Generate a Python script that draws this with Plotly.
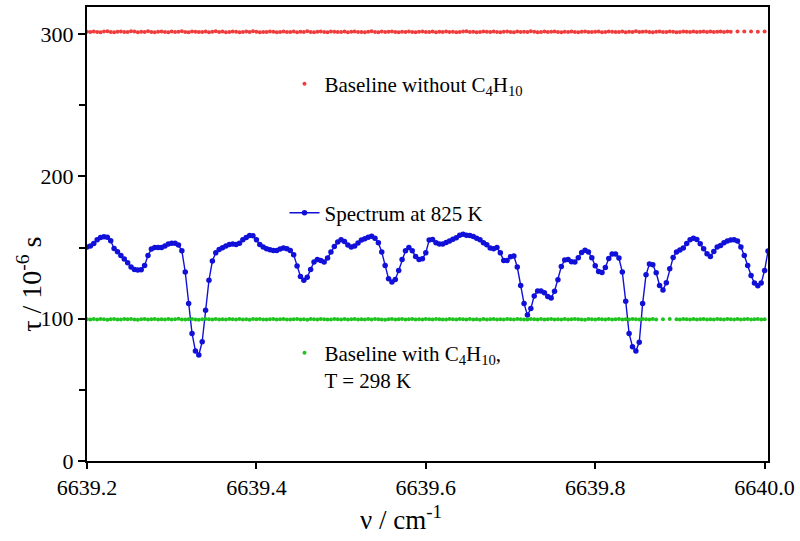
import numpy as np
import plotly.graph_objects as go

# ---- data ----
nu_start = 6639.2
nu_step = 0.004

spectrum_825K = [
    150.3, 151.0, 152.8, 155.4, 157.0, 157.5, 157.2, 154.7, 149.3, 147.0,
    144.4, 141.9, 139.3, 136.3, 134.6, 134.2, 134.4, 137.4, 144.4, 148.9,
    150.0, 150.0, 150.0, 151.0, 152.4, 153.0, 153.0, 151.7, 147.7, 132.8,
    110.6, 89.6, 77.3, 74.5, 83.8, 106.0, 127.0, 140.5, 146.3, 148.6,
    149.8, 151.0, 152.1, 152.4, 152.1, 153.0, 155.4, 157.0, 158.4, 158.2,
    155.4, 152.1, 150.3, 149.1, 148.4, 147.9, 147.9, 148.9, 149.6, 149.1,
    147.9, 144.9, 137.0, 129.7, 127.0, 129.1, 134.5, 139.9, 141.6, 140.9,
    139.8, 142.6, 146.8, 150.7, 153.8, 155.4, 154.2, 151.7, 150.3, 151.0,
    153.1, 155.2, 156.1, 157.2, 157.9, 156.5, 153.3, 146.8, 137.4, 128.1,
    125.8, 127.6, 133.9, 141.6, 147.7, 150.0, 147.7, 143.7, 141.6, 142.1,
    146.3, 155.2, 155.6, 153.3, 152.4, 152.4, 153.5, 154.5, 155.8, 156.8,
    158.6, 159.3, 158.6, 158.4, 157.7, 156.5, 155.4, 153.3, 151.9, 149.6,
    149.1, 150.0, 146.3, 140.9, 140.9, 143.5, 144.0, 136.3, 123.4, 110.6,
    102.5, 107.1, 116.0, 119.5, 119.5, 118.3, 115.5, 114.6, 119.3, 127.4,
    136.7, 141.2, 141.6, 140.0, 139.8, 142.8, 146.5, 148.1, 146.8, 142.8,
    137.2, 133.2, 132.5, 136.0, 142.3, 145.4, 145.4, 142.6, 132.8, 112.3,
    89.6, 80.3, 77.3, 83.4, 110.6, 130.9, 138.4, 137.9, 132.3, 123.4,
    120.2, 125.3, 135.1, 143.0, 146.8, 148.2, 149.6, 152.8, 155.4, 156.5,
    155.6, 152.6, 149.1, 145.6, 143.7, 147.2, 150.3, 151.4, 153.3, 154.5,
    155.2, 155.4, 154.5, 150.3, 144.4, 137.4, 130.4, 125.1, 123.2, 125.1,
    133.9, 147.5,
]

baseline_without = [
    301.6, 301.4, 301.8, 301.5, 301.3, 301.7, 301.9, 301.5, 301.2, 301.6,
    301.8, 301.4, 301.5, 302.0, 301.7, 301.3, 301.6, 301.5, 301.9, 301.4,
    301.2, 301.6, 301.8, 301.5, 301.3, 301.7, 301.4, 301.6, 302.0, 301.5,
    301.3, 301.8, 301.6, 301.4, 301.5, 301.7, 301.2, 301.6, 301.9, 301.5,
    301.7, 301.3, 301.5, 301.8, 301.6, 301.2, 301.4, 301.7, 301.5, 301.9,
    301.6, 301.3, 301.5, 301.4, 301.8, 301.6, 301.2, 301.5, 301.7, 301.4,
    301.5, 301.8, 301.3, 301.6, 301.5, 301.9, 301.4, 301.2, 301.6, 301.7,
    301.5, 301.3, 301.8, 301.6, 301.4, 301.5, 301.7, 301.3, 301.6, 301.8,
    301.4, 301.5, 301.2, 301.6, 301.9, 301.5, 301.3, 301.7, 301.4, 301.6,
    301.8, 301.5, 301.3, 301.6, 301.4, 301.7, 301.5, 301.2, 301.6, 301.8,
    301.5, 301.4, 301.7, 301.3, 301.6, 301.5, 301.8, 301.4, 301.6, 301.2,
    301.5, 301.7, 301.9, 301.4, 301.6, 301.3, 301.5, 301.8, 301.6, 301.4,
    301.7, 301.5, 301.2, 301.6, 301.8, 301.5, 301.3, 301.7, 301.4, 301.6,
    301.5, 301.9, 301.6, 301.3, 301.5, 301.7, 301.4, 301.6, 301.8, 301.5,
    301.3, 301.6, 301.4, 301.7, 301.5, 301.2, 301.6, 301.8, 301.5, 301.4,
    301.6, 301.7, 301.3, 301.5, 301.8, 301.6, 301.4, 301.5, 301.7, 301.3,
    301.6, 301.5, 301.9, 301.4, 301.6, 301.7, 301.5, 301.3, 301.6, 301.8,
    301.5, 301.4, 301.7, 301.6, 301.3, 301.5, 301.8, 301.6, 301.4, 301.7,
    301.5, 301.6, 301.8, 301.5, 301.7, 301.4, 301.6, 301.8, 301.5, 301.7,
    301.6, None, 301.8, None, 301.7, None, 301.8, None, 301.6, None,
    301.7,
]

baseline_with = [
    99.6, 99.4, 99.7, 99.5, 99.8, 99.6, 99.3, 99.6, 99.7, 99.5,
    99.4, 99.7, 99.6, 99.8, 99.5, 99.3, 99.6, 99.7, 99.4, 99.6,
    99.8, 99.5, 99.6, 99.4, 99.7, 99.5, 99.6, 99.9, 99.5, 99.4,
    99.6, 99.7, 99.5, 99.3, 99.6, 99.8, 99.6, 99.5, 99.7, 99.4,
    99.6, 99.5, 99.8, 99.6, 99.4, 99.7, 99.5, 99.6, 99.3, 99.7,
    99.6, 99.8, 99.5, 99.4, 99.6, 99.7, 99.5, 99.6, 99.8, 99.5,
    99.4, 99.6, 99.7, 99.5, 99.6, 99.3, 99.7, 99.6, 99.5, 99.8,
    99.6, 99.4, 99.5, 99.7, 99.6, 99.5, 99.8, 99.4, 99.6, 99.7,
    99.5, 99.6, 99.4, 99.7, 99.5, 99.8, 99.6, 99.5, 99.3, 99.6,
    99.7, 99.5, 99.6, 99.8, 99.4, 99.6, 99.7, 99.5, 99.6, 99.4,
    99.7, 99.6, 99.5, 99.8, 99.6, 99.4, 99.5, 99.7, 99.6, 99.5,
    99.8, 99.6, 99.4, 99.7, 99.5, 99.6, 99.3, 99.7, 99.5, 99.6,
    99.8, 99.5, 99.6, 99.4, 99.7, 99.6, 99.5, 99.8, 99.6, 99.4,
    99.5, 99.7, 99.6, 99.5, 99.8, 99.4, 99.6, 99.7, 99.5, 99.6,
    99.4, 99.7, 99.5, 99.6, 99.8, 99.6, 99.5, 99.3, 99.7, 99.6,
    99.5, 99.8, 99.6, 99.4, 99.7, 99.5, 99.6, 99.8, 99.5, 99.6,
    99.4, 99.7, 99.6, 99.5, 99.8, 99.6, 99.4, 99.7, 99.5, None,
    99.6, None, 99.7, None, 99.6, 99.5, 99.7, 99.6, 99.4, 99.7,
    99.5, 99.6, 99.8, 99.5, 99.6, 99.4, 99.7, 99.6, 99.5, 99.8,
    99.6, 99.4, 99.7, 99.5, 99.6, 99.8, 99.5, 99.6, 99.7, 99.5,
    99.6,
]

x_ticks = [6639.2, 6639.4, 6639.6, 6639.8, 6640.0]
x_ticklabels = ["6639.2", "6639.4", "6639.6", "6639.8", "6640.0"]
y_ticks = [0, 100, 200, 300]
x_title = "ν / cm<sup>-1</sup>"
y_title = "τ / 10<sup>-6</sup> s"

nu_spec = nu_start + nu_step * np.arange(len(spectrum_825K))
nu_base_red = nu_start + nu_step * np.arange(len(baseline_without))
nu_base_green = nu_start + nu_step * np.arange(len(baseline_with))

FONT = "Liberation Serif"

fig = go.Figure()

fig.add_trace(go.Scatter(
    x=nu_base_red, y=baseline_without, mode="markers",
    marker=dict(color="#f03c3c", size=4),
    name="Baseline without C<sub>4</sub>H<sub>10</sub>",
    legend="legend",
))
fig.add_trace(go.Scatter(
    x=nu_spec, y=spectrum_825K, mode="lines+markers",
    line=dict(color="#1010d8", width=1.4),
    marker=dict(color="#1010d8", size=5.5),
    name="Spectrum at 825 K",
    legend="legend2",
))
fig.add_trace(go.Scatter(
    x=nu_base_green, y=baseline_with, mode="markers",
    marker=dict(color="#1fc41f", size=4),
    name="Baseline with C<sub>4</sub>H<sub>10</sub>,<br>T = 298 K",
    legend="legend3",
))

leg_common = dict(
    bgcolor="rgba(0,0,0,0)", borderwidth=0,
    font=dict(family=FONT, size=21, color="black"),
    xanchor="left", itemclick=False, itemdoubleclick=False,
)

fig.update_layout(
    width=800, height=541,
    margin=dict(l=87, r=32, t=5, b=80),
    paper_bgcolor="white", plot_bgcolor="white",
    font=dict(family=FONT, color="black"),
    showlegend=True,
    legend=dict(**leg_common, x=0.29, y=0.83, yanchor="middle"),
    legend2=dict(**leg_common, x=0.29, y=0.546, yanchor="middle"),
    legend3=dict(**leg_common, x=0.29, y=0.283, yanchor="top", valign="top"),
    xaxis=dict(
        range=[6639.2, 6640.004],
        tickvals=x_ticks, ticktext=x_ticklabels,
        ticks="outside", ticklen=6, tickwidth=2, tickcolor="black",
        showline=True, linewidth=2, linecolor="black", mirror=True,
        showgrid=False, zeroline=False,
        tickfont=dict(family=FONT, size=22, color="black"),
    ),
    yaxis=dict(
        range=[0, 319],
        tickvals=y_ticks,
        ticks="outside", ticklen=7, tickwidth=2, tickcolor="black",
        minor=dict(tickvals=[50, 150, 250], ticks="outside", ticklen=6, tickwidth=2, tickcolor="black"),
        showline=True, linewidth=2, linecolor="black", mirror=True,
        showgrid=False, zeroline=False,
        tickfont=dict(family=FONT, size=22, color="black"),
    ),
    annotations=[
        dict(text=x_title, xref="paper", yref="paper", x=0.461, y=-0.126,
             xanchor="center", yanchor="middle", showarrow=False,
             font=dict(family=FONT, size=27, color="black")),
        dict(text=y_title, xref="paper", yref="paper", x=-0.084, y=0.39,
             xanchor="center", yanchor="middle", showarrow=False, textangle=-90,
             font=dict(family=FONT, size=28, color="black")),
    ],
)

fig.write_html("out.html", config={"displayModeBar": False},
               post_script="document.body.style.margin='0';")
